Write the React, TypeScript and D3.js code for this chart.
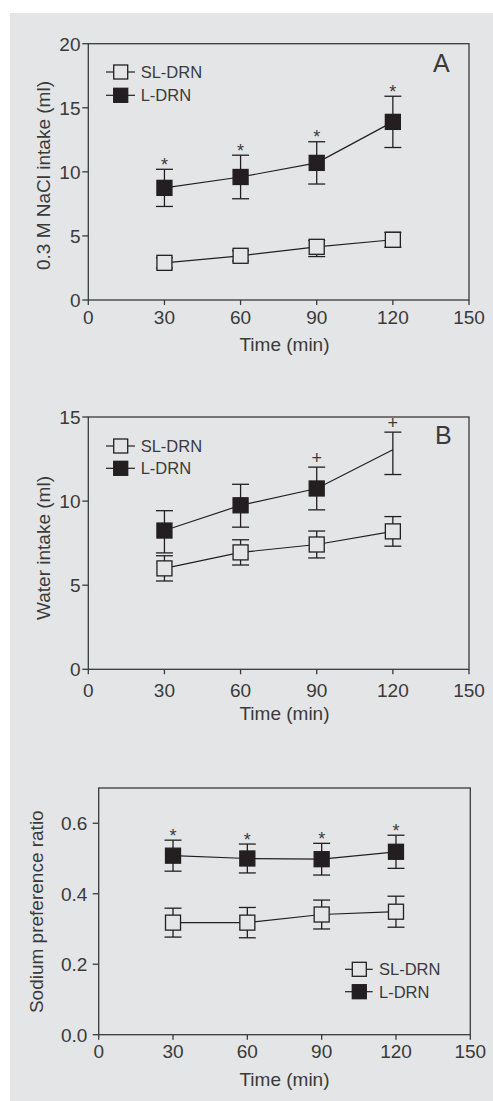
import React from "react";
import * as d3 from "d3";

// ---------- data ----------
const times = [30, 60, 90, 120];
const xTicks = [0, 30, 60, 90, 120, 150];

const naclTicks = [0, 5, 10, 15, 20];
const naclSL = [2.9, 3.45, 4.15, 4.7];
const naclSLErrUp = [0.4, 0.4, 0.5, 0.58];
const naclSLErrDown = [0.4, 0.4, 0.76, 0.58];
const naclL = [8.75, 9.6, 10.7, 13.9];
const naclLErr = [1.45, 1.7, 1.65, 2.0];
const naclMarks = ["*", "*", "*", "*"];

const waterTicks = [0, 5, 10, 15];
const waterSL = [6.0, 6.95, 7.42, 8.2];
const waterSLErr = [0.75, 0.75, 0.8, 0.88];
const waterL = [8.25, 9.75, 10.75, 13.05];
const waterLErrUp = [1.18, 1.25, 1.27, 1.05];
const waterLErrDown = [1.33, 1.3, 1.27, 1.47];
const waterLShown = [true, true, true, false];
const waterMarks = ["", "", "+", "+"];

const ratioTicks = [0, 0.2, 0.4, 0.6];
const ratioSL = [0.318, 0.318, 0.341, 0.349];
const ratioSLErr = [0.041, 0.043, 0.041, 0.044];
const ratioL = [0.508, 0.5, 0.498, 0.519];
const ratioLErr = [0.044, 0.041, 0.045, 0.047];
const ratioMarks = ["*", "*", "*", "*"];

const legendNames = ["SL-DRN", "L-DRN"];

// ---------- style ----------
const FONT = "'Liberation Sans', Arial, Helvetica, sans-serif";
const BG = "#e4e5e7";
const INK = "#231f20";
const AXIS = "#3a3a3a";
const TXT = "#3a3a3a";
const MS = 15; // marker size
const CAP = 8.5;

type Series = {
  values: number[];
  errUp: number[];
  errDown: number[];
  filled: boolean;
  shown?: boolean[];
};

type PanelProps = {
  left: number;
  right: number;
  top: number;
  bottom: number;
  yDomain: [number, number];
  yTicks: number[];
  yFmt: (v: number) => string;
  yLabel: string;
  yLabelX: number;
  yLabelY: number;
  yTickRight: number;
  xTickBase: number;
  series: Series[];
  marks: string[];
  legend: { lineX0: number; lineX1: number; mx: number; textX: number; ys: number[] };
  letter?: { text: string; x: number; y: number };
};

function Panel(p: PanelProps) {
  const x = d3.scaleLinear().domain([0, 150]).range([p.left, p.right]);
  const y = d3.scaleLinear().domain(p.yDomain).range([p.bottom, p.top]);
  const line = d3
    .line<number>()
    .x((_, i) => x(times[i]))
    .y((d) => y(d));
  const sigSeries = p.series[1];
  return (
    <g>
      {/* frame */}
      <rect
        x={p.left}
        y={p.top}
        width={p.right - p.left}
        height={p.bottom - p.top}
        fill="none"
        stroke={AXIS}
        strokeWidth={1.3}
      />
      {/* y ticks */}
      {p.yTicks.map((t) => (
        <g key={"y" + t}>
          <line x1={p.left - 6} x2={p.left} y1={y(t)} y2={y(t)} stroke={AXIS} strokeWidth={1.3} />
          <text
            x={p.yTickRight}
            y={y(t)}
            dy="0.36em"
            textAnchor="end"
            fontSize={19}
            fill={TXT}
            fontFamily={FONT}
          >
            {p.yFmt(t)}
          </text>
        </g>
      ))}
      {/* x ticks */}
      {xTicks.map((t) => (
        <g key={"x" + t}>
          <line x1={x(t)} x2={x(t)} y1={p.bottom} y2={p.bottom + 5} stroke={AXIS} strokeWidth={1.3} />
          <text
            x={x(t)}
            y={p.bottom + p.xTickBase}
            textAnchor="middle"
            fontSize={19}
            fill={TXT}
            fontFamily={FONT}
          >
            {t}
          </text>
        </g>
      ))}
      <text
        x={284.5}
        y={p.bottom + 51}
        textAnchor="middle"
        fontSize={19}
        fill={TXT}
        fontFamily={FONT}
      >
        Time (min)
      </text>
      <text
        transform={`translate(${p.yLabelX},${p.yLabelY}) rotate(-90)`}
        dy="0.36em"
        textAnchor="middle"
        fontSize={19}
        fill={TXT}
        fontFamily={FONT}
      >
        {p.yLabel}
      </text>
      {p.letter && (
        <text x={p.letter.x} y={p.letter.y} fontSize={25} fill={TXT} fontFamily={FONT}>
          {p.letter.text}
        </text>
      )}
      {/* lines */}
      {p.series.map((s, si) => (
        <path key={"l" + si} d={line(s.values) || ""} fill="none" stroke={INK} strokeWidth={1.2} />
      ))}
      {/* error bars */}
      {p.series.map((s, si) =>
        s.values.map((v, i) => {
          const cx = x(times[i]);
          const yt = y(v + s.errUp[i]);
          const yb = y(v - s.errDown[i]);
          return (
            <g key={"e" + si + "-" + i} stroke={INK} strokeWidth={1.3}>
              <line x1={cx} x2={cx} y1={yt} y2={yb} />
              <line x1={cx - CAP} x2={cx + CAP} y1={yt} y2={yt} />
              <line x1={cx - CAP} x2={cx + CAP} y1={yb} y2={yb} />
            </g>
          );
        })
      )}
      {/* markers */}
      {p.series.map((s, si) =>
        s.values.map((v, i) =>
          s.shown && !s.shown[i] ? null : (
            <rect
              key={"m" + si + "-" + i}
              x={x(times[i]) - MS / 2}
              y={y(v) - MS / 2}
              width={MS}
              height={MS}
              fill={s.filled ? INK : BG}
              stroke={INK}
              strokeWidth={1.3}
            />
          )
        )
      )}
      {/* significance marks */}
      {p.marks.map((m, i) => {
        if (!m) return null;
        const capY = y(sigSeries.values[i] + sigSeries.errUp[i]);
        const base = m === "*" ? capY + 1.5 : capY - 2.7;
        return (
          <text
            key={"s" + i}
            x={x(times[i])}
            y={base}
            textAnchor="middle"
            fontSize={18}
            fill={TXT}
            fontFamily={FONT}
          >
            {m}
          </text>
        );
      })}
      {/* legend */}
      {legendNames.map((name, li) => {
        const ly = p.legend.ys[li];
        return (
          <g key={"lg" + li}>
            <line x1={p.legend.lineX0} x2={p.legend.lineX1} y1={ly} y2={ly} stroke={INK} strokeWidth={1.2} />
            <rect
              x={p.legend.mx - 7}
              y={ly - 7}
              width={14}
              height={14}
              fill={li === 1 ? INK : BG}
              stroke={INK}
              strokeWidth={1.3}
            />
            <text
              x={p.legend.textX}
              y={ly}
              dy="0.36em"
              fontSize={16.5}
              fill={TXT}
              fontFamily={FONT}
            >
              {name}
            </text>
          </g>
        );
      })}
    </g>
  );
}

const fmtInt = (v: number) => d3.format("d")(v);
const fmt1 = (v: number) => d3.format(".1f")(v);

export default function App() {
  return (
    <svg
      width={493}
      height={1101}
      style={{ position: "absolute", left: 0, top: 0, display: "block" }}
    >
      <rect x={0} y={0} width={493} height={1101} fill="#ffffff" />
      <rect x={10} y={13} width={483} height={1088} fill={BG} />
      <Panel
        left={88.3}
        right={469}
        top={43.7}
        bottom={300}
        yDomain={[0, 20]}
        yTicks={naclTicks}
        yFmt={fmtInt}
        yLabel="0.3 M NaCl intake (ml)"
        yLabelX={43.3}
        yLabelY={175.5}
        yTickRight={80.5}
        xTickBase={24}
        series={[
          { values: naclSL, errUp: naclSLErrUp, errDown: naclSLErrDown, filled: false },
          { values: naclL, errUp: naclLErr, errDown: naclLErr, filled: true },
        ]}
        marks={naclMarks}
        legend={{ lineX0: 106, lineX1: 135, mx: 120.7, textX: 140.7, ys: [72, 95.3] }}
        letter={{ text: "A", x: 433, y: 71.7 }}
      />
      <Panel
        left={88.3}
        right={469}
        top={417}
        bottom={669.3}
        yDomain={[0, 15]}
        yTicks={waterTicks}
        yFmt={fmtInt}
        yLabel="Water intake (ml)"
        yLabelX={43.3}
        yLabelY={548}
        yTickRight={80.5}
        xTickBase={28}
        series={[
          { values: waterSL, errUp: waterSLErr, errDown: waterSLErr, filled: false },
          { values: waterL, errUp: waterLErrUp, errDown: waterLErrDown, filled: true, shown: waterLShown },
        ]}
        marks={waterMarks}
        legend={{ lineX0: 106, lineX1: 135, mx: 120.7, textX: 140.7, ys: [446, 468.3] }}
        letter={{ text: "B", x: 435, y: 444 }}
      />
      <Panel
        left={98.7}
        right={470.3}
        top={788}
        bottom={1034.7}
        yDomain={[0, 0.7]}
        yTicks={ratioTicks}
        yFmt={fmt1}
        yLabel="Sodium preference ratio"
        yLabelX={36}
        yLabelY={911.7}
        yTickRight={87.3}
        xTickBase={23.6}
        series={[
          { values: ratioSL, errUp: ratioSLErr, errDown: ratioSLErr, filled: false },
          { values: ratioL, errUp: ratioLErr, errDown: ratioLErr, filled: true },
        ]}
        marks={ratioMarks}
        legend={{ lineX0: 345, lineX1: 372.7, mx: 359.3, textX: 379, ys: [969.3, 991.7] }}
      />
    </svg>
  );
}
